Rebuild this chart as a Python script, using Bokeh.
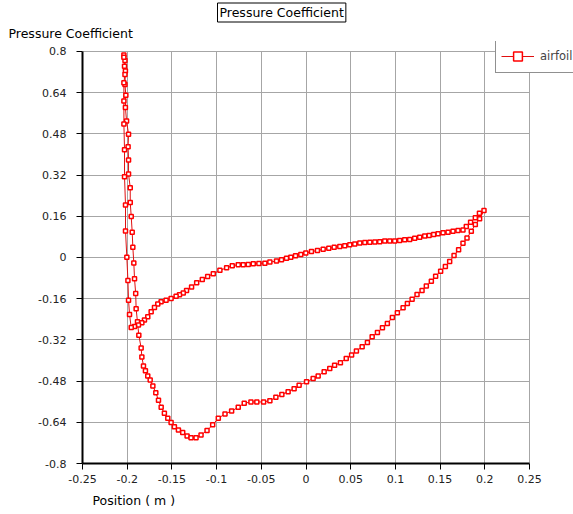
from bokeh.plotting import figure
from bokeh.models import (FixedTicker, Title, Legend, LegendItem, ColumnDataSource)
from bokeh.embed import file_html
from bokeh.resources import INLINE

# ---- data ----
# suction-side branch: leading edge (top of spike) -> pressure minimum -> trailing edge
x_suction = [-0.2037, -0.2025, -0.202, -0.2025, -0.2015, -0.202, -0.2007, -0.1985, -0.199, -0.1985,
             -0.1985, -0.1966, -0.1966, -0.1955, -0.1944, -0.1937, -0.1926, -0.1918, -0.1905, -0.19,
             -0.1885, -0.187, -0.1844, -0.1836, -0.1818, -0.1796, -0.177, -0.1743, -0.1713, -0.168,
             -0.165, -0.162, -0.1584, -0.1546, -0.1509, -0.1472, -0.1427, -0.1379, -0.133, -0.1286,
             -0.123, -0.1174, -0.1107, -0.1044, -0.0981, -0.0906, -0.0832, -0.0758, -0.0691, -0.0616,
             -0.055, -0.0474, -0.0404, -0.0337, -0.027, -0.02, -0.0133, -0.0077, 0.0006, 0.008,
             0.0136, 0.0203, 0.0266, 0.032, 0.0385, 0.045, 0.051, 0.0564, 0.0628, 0.0687,
             0.074, 0.0799, 0.0855, 0.091, 0.0966, 0.1022, 0.1086, 0.1134, 0.1187, 0.1242,
             0.1298, 0.1346, 0.1402, 0.145, 0.1506, 0.1559, 0.1607, 0.1656, 0.1707, 0.1756,
             0.1801, 0.1849, 0.1894, 0.1942, 0.1991]
cp_suction = [0.786, 0.765, 0.724, 0.672, 0.63, 0.582, 0.53, 0.479, 0.43, 0.379,
              0.324, 0.271, 0.214, 0.159, 0.098, 0.04, -0.021, -0.0825, -0.14, -0.199,
              -0.25, -0.302, -0.351, -0.386, -0.421, -0.44, -0.46, -0.476, -0.499, -0.525,
              -0.554, -0.582, -0.605, -0.624, -0.641, -0.657, -0.67, -0.68, -0.693, -0.7,
              -0.7, -0.689, -0.672, -0.65, -0.624, -0.608, -0.596, -0.582, -0.566, -0.561,
              -0.561, -0.561, -0.556, -0.543, -0.532, -0.521, -0.51, -0.496, -0.483, -0.47,
              -0.46, -0.444, -0.431, -0.418, -0.409, -0.392, -0.379, -0.363, -0.347, -0.33,
              -0.308, -0.291, -0.273, -0.256, -0.233, -0.215, -0.195, -0.179, -0.162, -0.144,
              -0.128, -0.111, -0.092, -0.073, -0.053, -0.035, -0.016, 0.008, 0.03, 0.055,
              0.076, 0.102, 0.128, 0.15, 0.182]

# pressure-side branch: trailing edge -> leading edge (back up the spike)
x_pressure = [0.194, 0.1894, 0.1841, 0.1793, 0.1756, 0.17, 0.1644, 0.1589, 0.1533, 0.1477,
              0.1428, 0.1377, 0.1328, 0.1272, 0.1216, 0.116, 0.1104, 0.1048, 0.0992, 0.0937,
              0.0881, 0.0825, 0.077, 0.0714, 0.0658, 0.0602, 0.0546, 0.049, 0.0434, 0.0378,
              0.0315, 0.0255, 0.0192, 0.0128, 0.0061, -0.0002, -0.0058, -0.0117, -0.017, -0.0218,
              -0.0274, -0.033, -0.0404, -0.046, -0.0527, -0.059, -0.0646, -0.0702, -0.0758, -0.0825,
              -0.0888, -0.0963, -0.1037, -0.11, -0.116, -0.1223, -0.128, -0.1336, -0.1373, -0.1415,
              -0.1453, -0.1509, -0.1565, -0.1621, -0.1658, -0.1695, -0.1732, -0.177, -0.1807, -0.1836,
              -0.1874, -0.1918, -0.1955, -0.1974, -0.1985, -0.1992, -0.2004, -0.2019, -0.2019, -0.203,
              -0.203, -0.2037, -0.2037, -0.2037, -0.2025, -0.203, -0.2037]
cp_pressure = [0.172, 0.154, 0.137, 0.12, 0.107, 0.105, 0.102, 0.098, 0.096, 0.092,
               0.089, 0.085, 0.083, 0.079, 0.075, 0.07, 0.069, 0.066, 0.064, 0.064,
               0.064, 0.061, 0.06, 0.059, 0.058, 0.056, 0.052, 0.049, 0.046, 0.043,
               0.04, 0.036, 0.032, 0.027, 0.023, 0.017, 0.012, 0.007, 0.001, -0.003,
               -0.009, -0.014, -0.018, -0.022, -0.023, -0.024, -0.027, -0.028, -0.028, -0.032,
               -0.04, -0.05, -0.063, -0.074, -0.085, -0.098, -0.115, -0.128, -0.138, -0.145,
               -0.151, -0.159, -0.166, -0.172, -0.181, -0.194, -0.211, -0.23, -0.243, -0.253,
               -0.262, -0.268, -0.272, -0.221, -0.166, -0.089, 0.001, 0.103, 0.204, 0.314,
               0.418, 0.518, 0.608, 0.679, 0.711, 0.743, 0.778]

x_ticks = [-0.25, -0.2, -0.15, -0.1, -0.05, 0, 0.05, 0.1, 0.15, 0.2, 0.25]
x_tick_labels = ["-0.25", "-0.2", "-0.15", "-0.1", "-0.05", "0", "0.05", "0.1", "0.15", "0.2", "0.25"]
y_ticks = [-0.8, -0.64, -0.48, -0.32, -0.16, 0, 0.16, 0.32, 0.48, 0.64, 0.8]
y_tick_labels = ["-0.8", "-0.64", "-0.48", "-0.32", "-0.16", "0", "0.16", "0.32", "0.48", "0.64", "0.8"]
x_axis_span = (-0.25, 0.25)
y_axis_span = (-0.8, 0.8)

series_name = "airfoil"
title_text = "Pressure Coefficient"
y_label_text = "Pressure Coefficient"
x_label_text = "Position ( m )"

assert len(x_suction) == len(cp_suction) and len(x_pressure) == len(cp_pressure)

FONT = "DejaVu Sans"
W, H = 573, 514
FL, FR, FT, FB = 82, 573, 40, 463          # frame edges on the page (px)
AX_R, AX_T = 529, 50                        # where the axes end (px)

# ranges are widened so that the legend (which overhangs the axes) is not clipped
sx = (x_axis_span[1] - x_axis_span[0]) / (AX_R - FL)
sy = (y_axis_span[1] - y_axis_span[0]) / (FB - AX_T)
x_end = x_axis_span[1] + (FR - AX_R) * sx
y_end = y_axis_span[1] + (AX_T - FT) * sy

src = ColumnDataSource(dict(x=x_suction + x_pressure, cp=cp_suction + cp_pressure))

p = figure(width=W, height=H, x_range=(x_axis_span[0], x_end), y_range=(y_axis_span[0], y_end),
           output_backend="svg", toolbar_location=None,
           min_border_left=FL, min_border_right=W - FR, min_border_top=FT, min_border_bottom=H - FB)
p.outline_line_color = None
p.background_fill_color = "white"
p.border_fill_color = "white"

for ax, ticks, labels, span in ((p.xaxis[0], x_ticks, x_tick_labels, x_axis_span),
                                (p.yaxis[0], y_ticks, y_tick_labels, y_axis_span)):
    ax.ticker = FixedTicker(ticks=ticks)
    ax.major_label_overrides = {t: l for t, l in zip(ticks, labels)}
    ax.bounds = span
    ax.axis_line_color = "black"
    ax.axis_line_width = 2
    ax.major_tick_line_color = "black"
    ax.major_tick_in = 0
    ax.major_tick_out = 6
    ax.minor_tick_line_color = None
    ax.major_label_text_font = FONT
    ax.major_label_text_font_size = "11px"
    ax.major_label_text_color = "#222222"
p.yaxis[0].major_label_standoff = 10
p.xaxis[0].major_label_standoff = 5

p.xgrid.ticker = FixedTicker(ticks=x_ticks)
p.ygrid.ticker = FixedTicker(ticks=y_ticks)
p.xgrid.cross_bounds = y_axis_span
p.ygrid.cross_bounds = x_axis_span
p.grid.grid_line_color = "#a6a6a6"
p.grid.grid_line_width = 1

r_line = p.line("x", "cp", source=src, line_color="#e01010", line_width=1)
r_pts = p.scatter("x", "cp", source=src, marker="square", size=4,
                  line_color="#ff0000", line_width=1.5, fill_color="white")

legend = Legend(items=[LegendItem(label=series_name, renderers=[r_line, r_pts])],
                location=(495 - FL, FB - 73), orientation="vertical",
                border_line_color="#222222", border_line_width=1.5,
                background_fill_color="white", background_fill_alpha=1,
                label_text_font=FONT, label_text_font_size="11.5px",
                glyph_width=33, glyph_height=22, label_height=22,
                label_standoff=6, padding=5, spacing=0, margin=0)
p.add_layout(legend, "center")

# texts outside the frame go into side panels (titles)
ylab = Title(text=y_label_text, align="left", offset=8 - FL, standoff=2,
             text_font=FONT, text_font_size="12.5px", text_font_style="normal",
             text_color="black")
p.add_layout(ylab, "above")
title = Title(text=title_text, align="left", offset=217 - FL, standoff=1,
              text_font=FONT, text_font_size="12.5px", text_font_style="normal",
              text_color="black", border_line_color="black", border_line_width=1,
              background_fill_color="white", padding=2)
p.add_layout(title, "above")

xlab = Title(text=x_label_text, align="left", offset=92 - FL, standoff=10,
             text_font=FONT, text_font_size="12.5px", text_font_style="normal",
             text_color="black")
p.add_layout(xlab, "below")

open("out.html", "w").write(file_html(p, INLINE))
